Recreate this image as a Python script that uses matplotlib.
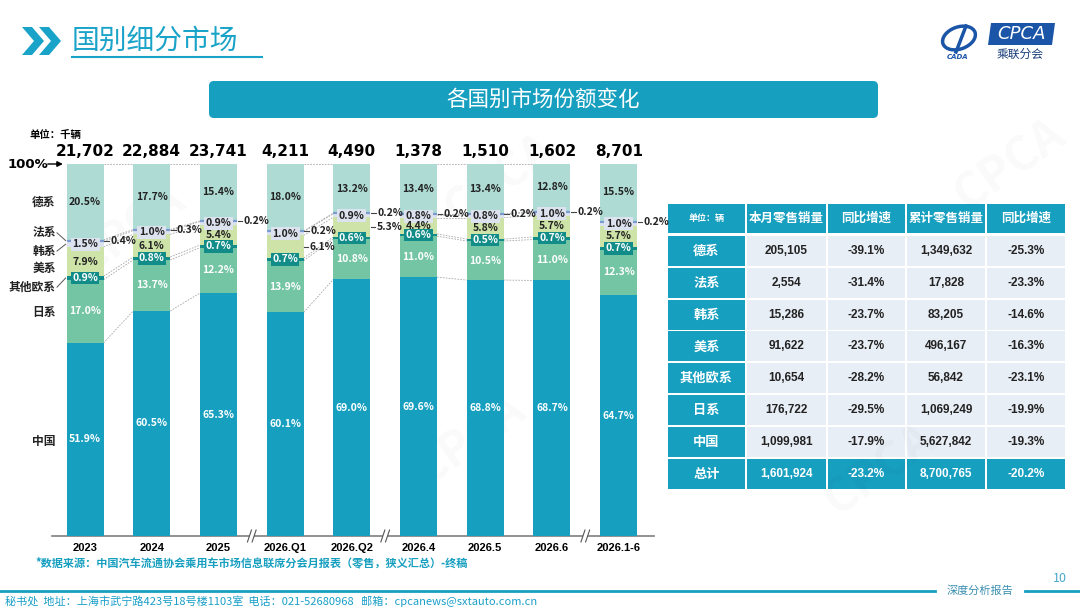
import numpy as np
import matplotlib
matplotlib.use('Agg')
import matplotlib.pyplot as plt
from matplotlib.patches import Rectangle, FancyBboxPatch, Polygon, Ellipse

plt.rcParams['font.family'] = ['Noto Sans CJK SC', 'DejaVu Sans']

# ---- data ----
periods = ['2023', '2024', '2025', '2026.Q1', '2026.Q2', '2026.4', '2026.5', '2026.6', '2026.1-6']
totals = ['21,702', '22,884', '23,741', '4,211', '4,490', '1,378', '1,510', '1,602', '8,701']
china = [51.9, 60.5, 65.3, 60.1, 69.0, 69.6, 68.8, 68.7, 64.7]
japan = [17.0, 13.7, 12.2, 13.9, 10.8, 11.0, 10.5, 11.0, 12.3]
other_eu = [0.9, 0.8, 0.7, 0.7, 0.6, 0.6, 0.5, 0.7, 0.7]
usa = [7.9, 6.1, 5.4, 6.1, 5.3, 4.4, 5.8, 5.7, 5.7]
korea = [1.5, 1.0, 0.9, 1.0, 0.9, 0.8, 0.8, 1.0, 1.0]
france = [0.4, 0.3, 0.2, 0.2, 0.2, 0.2, 0.2, 0.2, 0.2]
germany = [20.5, 17.7, 15.4, 18.0, 13.2, 13.4, 13.4, 12.8, 15.5]
groups = [[0, 1, 2], [3, 4], [5, 6, 7], [8]]
usa_outside = [3, 4]

tbl_rows = ['德系', '法系', '韩系', '美系', '其他欧系', '日系', '中国', '总计']
tbl_month = [205105, 2554, 15286, 91622, 10654, 176722, 1099981, 1601924]
tbl_month_yoy = [-39.1, -31.4, -23.7, -23.7, -28.2, -29.5, -17.9, -23.2]
tbl_cum = [1349632, 17828, 83205, 496167, 56842, 1069249, 5627842, 8700765]
tbl_cum_yoy = [-25.3, -23.3, -14.6, -16.3, -23.1, -19.9, -19.3, -20.2]
tbl_head = ['单位：辆', '本月零售销量', '同比增速', '累计零售销量', '同比增速']

TEAL = '#179fc0'
DARK = '#222222'
c_china = '#179fc0'
c_japan = '#74c5a4'
c_oeu = '#118c88'
c_usa = '#cde3a8'
c_kor = '#dde2ef'
c_fra = '#7b9bd1'
c_ger = '#aedcd5'

fig = plt.figure(figsize=(10.8, 6.08), dpi=100)
bg = fig.add_axes([0, 0, 1, 1])
bg.set_xlim(0, 1080)
bg.set_ylim(608, 0)
bg.axis('off')

# watermarks
for wx, wy in [(130, 230), (500, 180), (1010, 165), (470, 440), (880, 470)]:
    bg.text(wx, wy, 'CPCA', fontsize=34, fontweight='bold', style='italic', color='#000000',
            alpha=0.025, rotation=35, ha='center', va='center')

# header
for off in [0, 17]:
    bg.add_patch(Polygon([(22 + off, 27), (32 + off, 27), (44 + off, 41), (32 + off, 55),
                          (22 + off, 55), (34 + off, 41)], closed=True, color='#1aa3c8', lw=0))
bg.text(72, 41, '国别细分市场', fontsize=20, color='#1aa3c8', va='center', ha='left')
bg.plot([72, 262], [57, 57], color='#1aa3c8', lw=1.5)

# logo
bg.add_patch(Ellipse((959, 38), 34, 22, angle=-20, fill=False, ec='#1b55a8', lw=2.5))
bg.plot([956, 966], [52, 26], color='#1b55a8', lw=2.5)
bg.text(958, 57, 'CADA', fontsize=5, fontweight='bold', style='italic', color='#1b55a8',
        ha='center', va='center', family='DejaVu Sans')
bg.add_patch(Polygon([(991, 23), (1055, 23), (1052, 45), (988, 45)], closed=True,
                     color='#1b55a8', lw=0))
bg.text(1021, 34, 'CPCA', fontsize=13, style='italic', color='white',
        ha='center', va='center', family='DejaVu Sans')
bg.text(1020, 54, '乘联分会', fontsize=8.5, color='#1b3f7a', ha='center', va='center')

# banner
bg.add_patch(FancyBboxPatch((209, 81), 669, 37, boxstyle='round,pad=0,rounding_size=5',
                            color=TEAL, lw=0))
bg.text(543, 100, '各国别市场份额变化', fontsize=15.5, color='white', ha='center', va='center')

# ---- bar chart ----
ax = fig.add_axes([52 / 1080, 72 / 608, 602 / 1080, 372 / 608])
ax.patch.set_alpha(0)
ax.set_xlim(-0.495, 8.53)
ax.set_ylim(0, 100)
w = 0.555
x = np.arange(len(periods))
series = [china, japan, other_eu, usa, korea, france, germany]
colors = [c_china, c_japan, c_oeu, c_usa, c_kor, c_fra, c_ger]
bottom = np.zeros(len(periods))
cums = []
for vals, col in zip(series, colors):
    ax.bar(x, vals, w, bottom=bottom, color=col, lw=0, zorder=3)
    bottom = bottom + np.array(vals)
    cums.append(bottom.copy())

# france thin line
fr_base = cums[4]
for i in x:
    ax.plot([i - w / 2, i + w / 2], [fr_base[i] + france[i] / 2] * 2, color=c_fra, lw=1.6,
            zorder=4, solid_capstyle='butt')

# connectors between bars of same group
for g in groups:
    for a, b in zip(g[:-1], g[1:]):
        for cum in cums:
            ax.plot([a + w / 2, b - w / 2], [min(cum[a], 100), min(cum[b], 100)],
                    color='#a8a8a8', lw=0.6, ls=(0, (2, 1.5)), zorder=2)

lab_kw = dict(ha='center', va='center', fontsize=7.5, fontweight='bold', zorder=6)
out_kw = dict(ha='left', va='center', fontsize=7.5, fontweight='bold', zorder=6, color=DARK)
for i in x:
    ax.text(i, china[i] / 2, f'{china[i]:.1f}%', color='white', **lab_kw)
    ax.text(i, cums[0][i] + japan[i] / 2, f'{japan[i]:.1f}%', color='white', **lab_kw)
    ax.text(i, cums[1][i] + other_eu[i] / 2, f'{other_eu[i]:.1f}%', color='white',
            bbox=dict(boxstyle='square,pad=0.12', fc=c_oeu, ec='none'), **lab_kw)
    ym = cums[2][i] + usa[i] / 2
    if i in usa_outside:
        ax.plot([i + w / 2 + 0.01, i + w / 2 + 0.07], [ym, ym], color='#444444', lw=0.8, zorder=5)
        ax.text(i + w / 2 + 0.09, ym, f'{usa[i]:.1f}%', **out_kw)
    else:
        ax.text(i, ym, f'{usa[i]:.1f}%', color=DARK, ha='center', va='center', fontsize=7.5,
                fontweight='bold', zorder=8)
    ax.text(i, cums[3][i] + korea[i] / 2, f'{korea[i]:.1f}%', color=DARK,
            bbox=dict(boxstyle='square,pad=0.15', fc=c_kor, ec='none'), **lab_kw)
    yf = cums[4][i] + france[i] / 2
    ax.plot([i + w / 2 + 0.01, i + w / 2 + 0.08], [yf, yf], color='#444444', lw=0.8, zorder=5)
    ax.text(i + w / 2 + 0.1, yf, f'{france[i]:.1f}%', **out_kw)
    ax.text(i, cums[5][i] + germany[i] / 2, f'{germany[i]:.1f}%', color=DARK, **lab_kw)
    ax.text(i, 103.4, totals[i], ha='center', va='center', fontsize=11, fontweight='bold',
            color='black', family='DejaVu Sans', zorder=6)

for s in ['top', 'right', 'left']:
    ax.spines[s].set_visible(False)
ax.spines['bottom'].set_color('#7f7f7f')
ax.spines['bottom'].set_linewidth(1.2)
ax.set_yticks([])
ax.set_xticks(x)
ax.set_xticklabels(periods, fontsize=8, fontweight='bold', family='Liberation Sans')
ax.tick_params(axis='x', length=0, pad=5)

# axis breaks
trans = ax.get_xaxis_transform()
for g in groups[:-1]:
    xb = g[-1] + 0.5
    ax.add_patch(Rectangle((xb - 0.04, -0.012), 0.08, 0.024, transform=trans, color='white',
                           lw=0, clip_on=False, zorder=7))
    for dx in [-0.035, 0.035]:
        ax.plot([xb + dx - 0.03, xb + dx + 0.03], [-0.016, 0.016], transform=trans,
                color='#555555', lw=0.8, clip_on=False, zorder=8)

# category labels on the left
cat_names = ['德系', '法系', '韩系', '美系', '其他欧系', '日系', '中国']
cat_y = [89.8, 81.5, 76.6, 71.8, 66.9, 60.2, 25.5]
for name, yy in zip(cat_names, cat_y):
    ax.text(-0.44, yy, name, ha='right', va='center', fontsize=8.5, fontweight='bold',
            color=DARK, clip_on=False)
for yy, target in [(81.5, cums[4][0] + france[0] / 2), (76.6, cums[3][0] + korea[0] / 2),
                   (66.9, cums[1][0] + other_eu[0] / 2)]:
    ax.plot([-0.42, -0.29], [yy, target], color='#555555', lw=0.7, clip_on=False)

ax.annotate('', xy=(-0.29, 100), xytext=(-0.6, 100),
            arrowprops=dict(arrowstyle='-|>', color='black', lw=1, mutation_scale=8),
            annotation_clip=False)
bg.text(8, 164, '100%', fontsize=9.5, fontweight='bold', va='center', ha='left', family='DejaVu Sans')
bg.text(30, 135, '单位：千辆', fontsize=7.5, fontweight='bold', va='center', ha='left')

bg.text(35, 563, '*数据来源：中国汽车流通协会乘用车市场信息联席分会月报表（零售，狭义汇总）-终稿',
        fontsize=8, fontweight='bold', color=TEAL, va='center', ha='left')

# ---- table ----
col_edges = [667, 746, 827, 906, 986, 1066]
row_tops = [204] + [236 + 31.8 * k for k in range(7)] + [459]
row_h = [29] + [30] * 7 + [30]
for r, (top, h) in enumerate(zip(row_tops, row_h)):
    for c in range(5):
        x0 = col_edges[c] + 1
        cw = col_edges[c + 1] - col_edges[c] - 2
        header = (r == 0) or (r == 8) or (c == 0)
        bg.add_patch(Rectangle((x0, top), cw, h, color=TEAL if header else '#e8eef6', lw=0))
        xc = x0 + cw / 2
        yc = top + h / 2
        if r == 0:
            bg.text(xc, yc, tbl_head[c], fontsize=6.5 if c == 0 else 9, fontweight='bold',
                    color='white', ha='center', va='center')
            continue
        k = r - 1
        vals = [tbl_rows[k], f'{tbl_month[k]:,}', f'{tbl_month_yoy[k]:.1f}%',
                f'{tbl_cum[k]:,}', f'{tbl_cum_yoy[k]:.1f}%']
        if c == 0:
            bg.text(xc, yc, vals[c], fontsize=9.5, fontweight='bold', color='white',
                    ha='center', va='center')
        else:
            bg.text(xc, yc, vals[c], fontsize=8.5, fontweight='bold',
                    color='white' if r == 8 else DARK, ha='center', va='center',
                    family='Liberation Sans')

# footer
bg.plot([0, 935], [591, 591], color=TEAL, lw=2)
bg.plot([1025, 1080], [591, 591], color=TEAL, lw=2)
bg.text(980, 591, '深度分析报告', fontsize=8, color='#3a8fb0', ha='center', va='center')
bg.text(1060, 578, '10', fontsize=9, color='#4aa8c8', ha='center', va='center')
bg.text(5, 601, '秘书处  地址：上海市武宁路423号18号楼1103室  电话：021-52680968   邮箱：cpcanews@sxtauto.com.cn',
        fontsize=8, color='#1a9fc8', ha='left', va='center')

fig.savefig('out.png', dpi=100)
